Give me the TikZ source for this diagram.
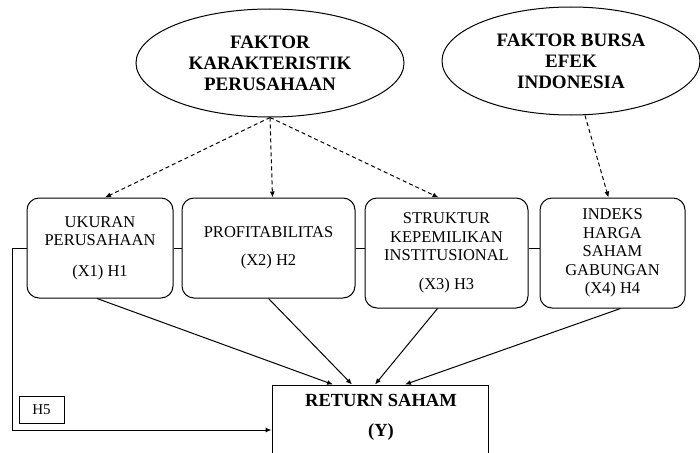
\documentclass[tikz,border=0pt]{standalone}
\usepackage{fontspec}
\setmainfont{Liberation Serif}
\usetikzlibrary{shapes.geometric,arrows.meta}
\tikzset{
  faktor/.style={draw,ellipse,line width=1pt,minimum width=268pt,minimum height=108pt,align=center,font=\fontsize{19}{21}\selectfont\bfseries},
  var/.style={draw,rounded corners=12pt,line width=1pt,align=center,font=\fontsize{16.5}{18.5}\selectfont},
  hasil/.style={-{Latex[length=6pt,width=5pt]},line width=1pt},
  pengaruh/.style={-{Latex[length=6pt,width=5pt]},dash pattern=on 4pt off 3pt,line width=1pt}
}
\begin{document}
\begin{tikzpicture}[x=1pt,y=-1pt]
      \clip (0,0) rectangle (700,452);
      \node[faktor] (fk) at (270,63) {FAKTOR\\KARAKTERISTIK\\PERUSAHAAN};
      \node[faktor,minimum width=258pt] (fb) at (571,61) {FAKTOR BURSA\\EFEK\\INDONESIA};
      \node[var,minimum width=146pt,minimum height=100pt] (x1) at (100,248) {UKURAN\\PERUSAHAAN\\[12pt](X1) H1};
      \node[var,minimum width=173pt,minimum height=100pt] (x2) at (268.5,248) {PROFITABILITAS\\[10pt](X2) H2};
      \node[var,minimum width=163pt,minimum height=110pt] (x3) at (446.5,253) {STRUKTUR\\KEPEMILIKAN\\INSTITUSIONAL\\[10pt](X3) H3};
      \node[var,minimum width=145pt,minimum height=110pt] (x4) at (612.5,253) {INDEKS\\HARGA\\SAHAM\\GABUNGAN\\(X4) H4};
      \node[draw,line width=1pt,minimum width=216pt,minimum height=90pt] (y) at (380,430) {};
      \node[align=center,font=\fontsize{18.5}{30}\selectfont\bfseries] (ylbl) at (381,417) {RETURN SAHAM\\(Y)};
      \node[draw,line width=1pt,minimum width=45pt,minimum height=27pt,font=\fontsize{15}{17}\selectfont] (h5) at (41.5,409.5) {H5};
      \begin{scope}[line width=1pt]
        \draw (x1.east) -- (x2.west);
        \draw (x2.east) -- (x3.west |- x2.east);
        \draw (x3.east |- x2.east) -- (x4.west |- x2.east);
      \end{scope}
      \begin{scope}[pengaruh]
        \draw (fk.south) to ([xshift=5pt]x1.north);
        \draw (fk.south) to ([xshift=4pt]x2.north);
        \draw (fk.south) to ([xshift=-8pt]x3.north);
        \draw ([xshift=14pt]fb.south) to ([xshift=-4pt]x4.north);
      \end{scope}
      \begin{scope}[hasil]
        \draw ([xshift=-3pt]x1.south) to ([xshift=-47pt]y.north);
        \draw (x2.south) to ([xshift=-28pt]y.north);
        \draw ([xshift=-9pt]x3.south) to ([xshift=-5pt]y.north);
        \draw ([xshift=8pt]x4.south) to ([xshift=25pt]y.north);
        \draw (x1.west) -- ++(-14,0) |- (y.west);
      \end{scope}
    \end{tikzpicture}
\end{document}
